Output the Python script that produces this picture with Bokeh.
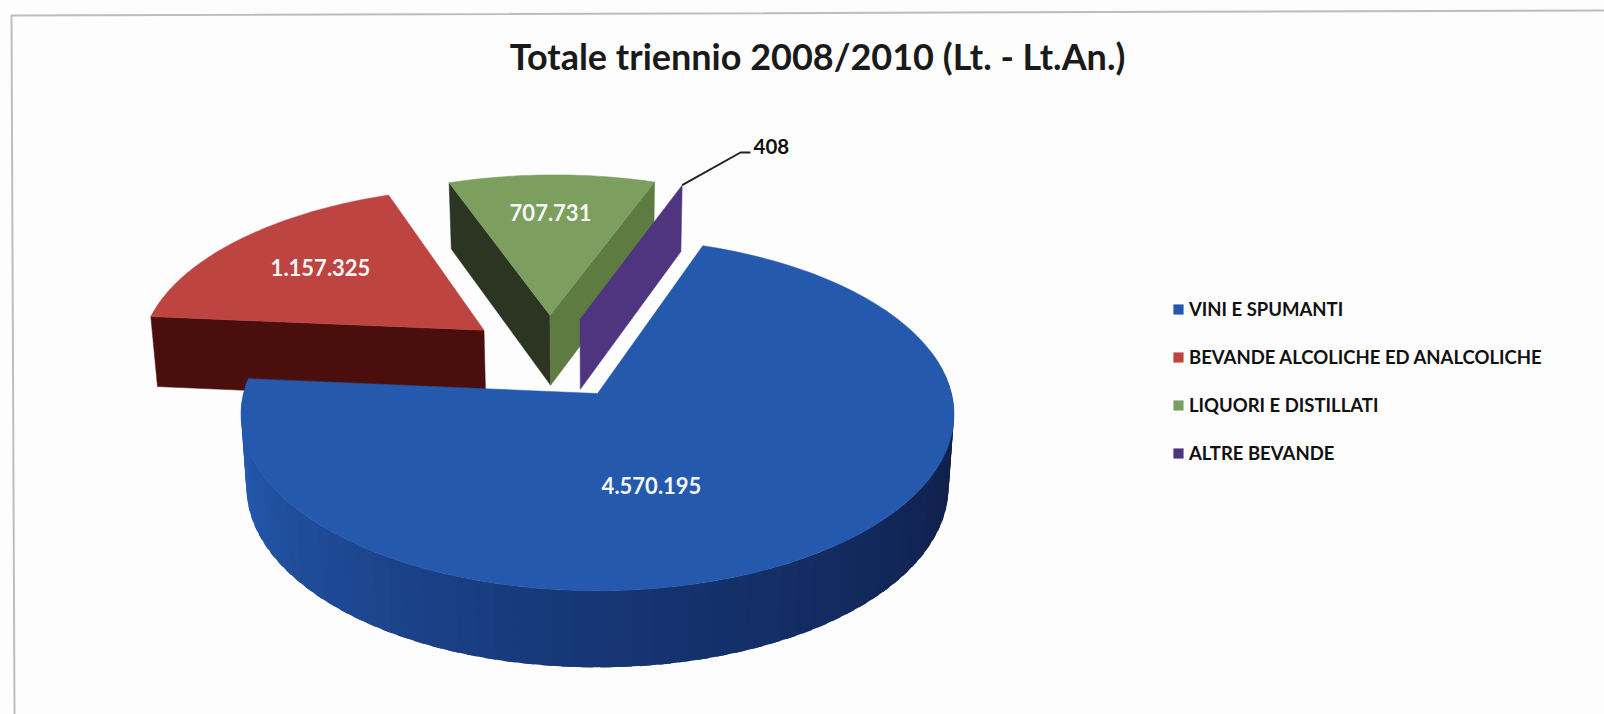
import math
from bokeh.plotting import figure
from bokeh.models import Range1d, Legend, LegendItem
from bokeh.core.properties import value
from bokeh.embed import file_html
from bokeh.resources import INLINE

title_text = "Totale triennio 2008/2010 (Lt. - Lt.An.)"
categories = ["VINI E SPUMANTI", "BEVANDE ALCOLICHE ED ANALCOLICHE", "LIQUORI E DISTILLATI", "ALTRE BEVANDE"]
values = [4570195, 1157325, 707731, 408]
labels = ["4.570.195", "1.157.325", "707.731", "408"]

# --- styles / layout (page pixels)
top_col = ["#2459AE", "#BD4441", "#7C9F5F", "#4F3480"]
START = 19.3
CX, CY, A, B, K = 597.0, 393.0, 354.0, 174.0, 0.118
D0, K2, TAPER = 72.0, 0.0614, 0.985
offset = [(0.0, 0.0), (-0.335, 0.38), (-0.142, 0.475), (-0.052, 0.45)]
label_pos = [(651, 485), (320, 267), (550, 212)]
FONT = "Lato"


def top(Xw, Yw):
    den = 1 + K * Yw
    return CX + A * Xw / den, CY - B * Yw / den


def bottom(Xw, Yw):
    x, y = top(Xw, Yw)
    return CX + (x - CX) * TAPER, y + D0 / (1 + K2 * Yw)


def pt(i, deg, r=1.0):
    t = math.radians(deg)
    return offset[i][0] + r * math.sin(t), offset[i][1] + r * math.cos(t)


def lerp(c1, c2, f):
    a = [int(c1[j:j + 2], 16) for j in (1, 3, 5)]
    b = [int(c2[j:j + 2], 16) for j in (1, 3, 5)]
    return "#%02x%02x%02x" % tuple(round(p + (q - p) * f) for p, q in zip(a, b))


total = sum(values)
bounds = [START]
for v in values:
    bounds.append(bounds[-1] + 360.0 * v / total)
spans = {i: (bounds[i], bounds[i + 1]) for i in range(4)}

W, H = 1604, 714
p = figure(width=W, height=H, output_backend="svg", toolbar_location=None,
           x_range=Range1d(0, W), y_range=Range1d(H, 0),
           min_border=0, outline_line_color=None, background_fill_color="#FDFDFD",
           border_fill_color="#FDFDFD")
p.axis.visible = False
p.grid.visible = False

# frame of the scanned sheet
p.line([1604, 11, 14], [10, 15, 714], line_color="#BDBDBD", line_width=2)


def face(i, n=60):
    a0, a1 = spans[i]
    xs, ys = [], []
    x, y = top(*offset[i])
    xs.append(x); ys.append(y)
    steps = max(2, int(n * (a1 - a0) / 60))
    for s in range(steps + 1):
        d = a0 + (a1 - a0) * s / steps
        x, y = top(*pt(i, d))
        xs.append(x); ys.append(y)
    return xs, ys


def cut_wall(i, deg, color):
    c = offset[i]
    r = pt(i, deg)
    t0, t1 = top(*c), top(*r)
    b1, b0 = bottom(*r), bottom(*c)
    return p.patch([t0[0], t1[0], b1[0], b0[0]], [t0[1], t1[1], b1[1], b0[1]],
                   fill_color=color, line_color=color, line_width=0.5)


faces = {}
# red slice
cut_wall(1, spans[1][0], "#4A0F0D")
fx, fy = face(1)
faces[1] = p.patch(fx, fy, fill_color=top_col[1], line_color=top_col[1], line_width=0.5)

# green slice
cut_wall(2, spans[2][0], "#2C3422")
cut_wall(2, spans[2][1], "#5E7C42")
fx, fy = face(2)
faces[2] = p.patch(fx, fy, fill_color=top_col[2], line_color=top_col[2], line_width=0.5)

# the tiny slice: practically only its cut wall shows
faces[3] = cut_wall(3, spans[3][1], top_col[3])

# blue slice, rim shaded front-left to right
rim_x, rim_y, rim_c = [], [], []
d0 = 75.0
d1 = spans[0][1]
steps = 70
for s in range(steps):
    u0 = d0 + (d1 - d0) * s / steps
    u1 = d0 + (d1 - d0) * (s + 1.6) / steps
    u1 = min(u1, d1)
    t0, t1 = top(*pt(0, u0)), top(*pt(0, u1))
    b0, b1 = bottom(*pt(0, u0)), bottom(*pt(0, u1))
    rim_x.append([t0[0], t1[0], b1[0], b0[0]])
    rim_y.append([t0[1], t1[1], b1[1], b0[1]])
    um = u0
    if um < 180:
        rim_c.append(lerp("#0F1C44", "#163675", max(0.0, (um - 90) / 90)))
    else:
        rim_c.append(lerp("#163675", "#2458AC", (um - 180) / 75 if um < 255 else 1.0))
p.patches(rim_x, rim_y, fill_color=rim_c, line_color=None)
fx, fy = face(0, n=40)
faces[0] = p.patch(fx, fy, fill_color=top_col[0], line_color=top_col[0], line_width=0.5)

# data labels
for i in range(3):
    p.text([label_pos[i][0]], [label_pos[i][1]], text=[labels[i]], text_color="#F4F6F4",
           text_font=value(FONT), text_font_style="bold", text_font_size="22px",
           text_align="center", text_baseline="middle")

# leader of the smallest slice
rx, ry = top(*pt(3, spans[3][1]))
p.line([rx, 740, 750], [ry, 152, 152], line_color="#222222", line_width=2)
p.text([753], [146], text=[labels[3]], text_color="#111111", text_font=value(FONT),
       text_font_style="bold", text_font_size="20.5px", text_align="left", text_baseline="middle")

# title
p.text([817], [55], text=[title_text], text_color="#1A1A1A", text_font=value(FONT),
       text_font_style="bold", text_font_size="36px", text_align="center", text_baseline="middle")

legend = Legend(items=[LegendItem(label=categories[i], renderers=[faces[i]]) for i in range(4)],
                location=(1172, H - 464), orientation="vertical",
                glyph_width=12, glyph_height=12, label_standoff=5, spacing=26, padding=0, margin=0,
                label_height=20, label_text_font=FONT, label_text_font_style="bold",
                label_text_font_size="18.5px", label_text_color="#111111",
                background_fill_alpha=0, border_line_color=None)
p.add_layout(legend)

open("out.html", "w").write(file_html(p, INLINE))
